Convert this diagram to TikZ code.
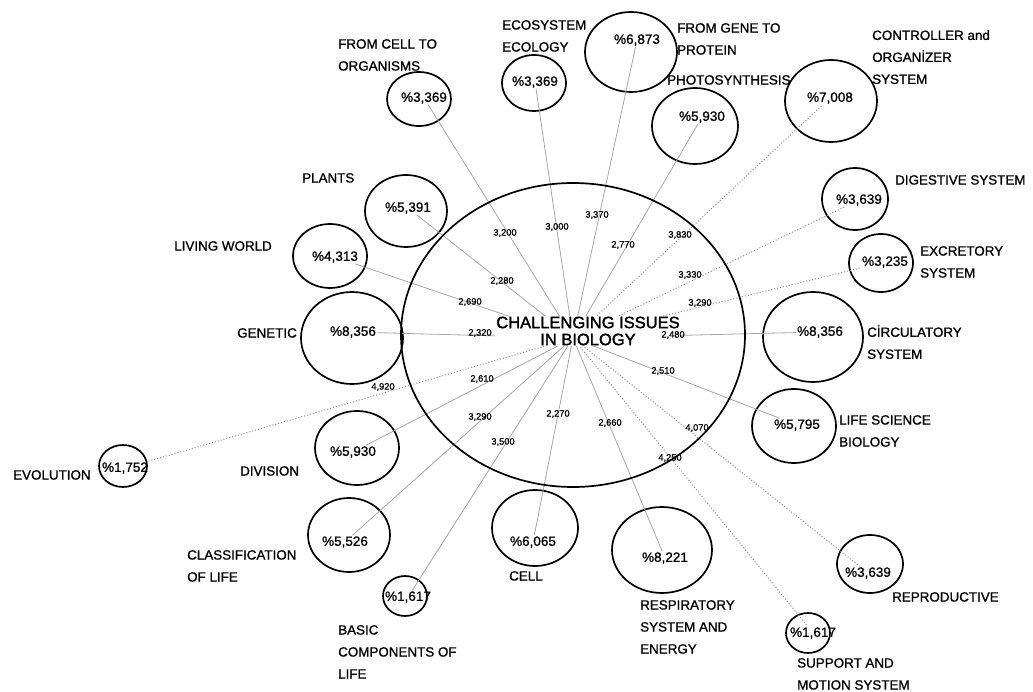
\documentclass[tikz,border=0pt]{standalone}
\usepackage{fontspec}
\setmainfont{Liberation Sans}
\newfontfamily\heavyfont{Liberation Sans}[RawFeature={embolden=1.0}]
\newfontfamily\titlefont{Liberation Sans}[RawFeature={embolden=1.6}]
\usetikzlibrary{shapes.geometric}

\tikzset{
	bub/.style={draw, ellipse, line width=1.7pt, inner sep=0pt},
	pct/.style={font=\heavyfont\fontsize{13.5}{14}\selectfont, inner sep=1pt},
	lbl/.style={font=\heavyfont\fontsize{13.4}{22}\selectfont, align=left, inner sep=0pt},
	wgt/.style={font=\heavyfont\fontsize{9.3}{10}\selectfont, inner sep=0pt},
	link/.style={draw=black!35, line width=0.8pt},
	linkd/.style={draw=black!45, line width=1pt, dotted},
	ttl/.style={font=\titlefont\fontsize{16.5}{17}\selectfont, align=center, fill=white, inner sep=1pt}
}

\begin{document}
\begin{tikzpicture}[x=1pt, y=-1pt]
		\useasboundingbox (0,0) rectangle (1033,692);
		
		\coordinate (hub) at (573,338);
		
		\node[bub, minimum width=64pt, minimum height=54pt] (cellorgC) at (419,99) {};
		\node[pct] (cellorg) at (424,98) {\%3,369};
		\node[bub, minimum width=64pt, minimum height=56pt] (ecoC) at (534,83) {};
		\node[pct] (eco) at (535,82) {\%3,369};
		\node[bub, minimum width=92pt, minimum height=80pt] (geneC) at (631,52) {};
		\node[pct] (gene) at (637,40) {\%6,873};
		\node[bub, minimum width=86pt, minimum height=76pt] (photoC) at (695,126) {};
		\node[pct] (photo) at (702,117) {\%5,930};
		\node[bub, minimum width=92pt, minimum height=82pt] (ctrlC) at (831,101) {};
		\node[pct] (ctrl) at (830,98) {\%7,008};
		\node[bub, minimum width=66pt, minimum height=62pt] (digC) at (855,199) {};
		\node[pct] (dig) at (859,200) {\%3,639};
		\node[bub, minimum width=64pt, minimum height=58pt] (excC) at (881,263) {};
		\node[pct] (exc) at (885,262) {\%3,235};
		\node[bub, minimum width=100pt, minimum height=90pt] (circC) at (813,337) {};
		\node[pct] (circ) at (820,332) {\%8,356};
		\node[bub, minimum width=84pt, minimum height=74pt] (lifeC) at (794,426) {};
		\node[pct] (life) at (797,425) {\%5,795};
		\node[bub, minimum width=66pt, minimum height=58pt] (reprC) at (870,564) {};
		\node[pct] (repr) at (868,573) {\%3,639};
		\node[bub, minimum width=44pt, minimum height=40pt] (suppC) at (808,633) {};
		\node[pct] (supp) at (813,633) {\%1,617};
		\node[bub, minimum width=100pt, minimum height=86pt] (respC) at (662,550) {};
		\node[pct] (resp) at (665,558) {\%8,221};
		\node[bub, minimum width=86pt, minimum height=76pt] (cellC) at (535,528) {};
		\node[pct] (cell) at (533,542) {\%6,065};
		\node[bub, minimum width=44pt, minimum height=40pt] (basicC) at (405,596) {};
		\node[pct] (basic) at (408,597) {\%1,617};
		\node[bub, minimum width=82pt, minimum height=74pt] (classC) at (349,535) {};
		\node[pct] (class) at (345,542) {\%5,526};
		\node[bub, minimum width=84pt, minimum height=74pt] (divC) at (357,448) {};
		\node[pct] (div) at (353,452) {\%5,930};
		\node[bub, minimum width=48pt, minimum height=42pt] (evolC) at (123,466) {};
		\node[pct] (evol) at (125,468) {\%1,752};
		\node[bub, minimum width=102pt, minimum height=92pt] (genC) at (352,338) {};
		\node[pct] (gen) at (353,332) {\%8,356};
		\node[bub, minimum width=74pt, minimum height=64pt] (livC) at (330,256) {};
		\node[pct] (liv) at (335,257) {\%4,313};
		\node[bub, minimum width=82pt, minimum height=72pt] (plantC) at (406,211) {};
		\node[pct] (plant) at (408,208) {\%5,391};
		
		\draw[link] (hub) -- (cellorg);
		\draw[link] (hub) -- (eco);
		\draw[link] (hub) -- (gene);
		\draw[link] (hub) -- (photo);
		\draw[linkd] (hub) -- (ctrl);
		\draw[linkd] (hub) -- (dig);
		\draw[linkd] (hub) -- (exc);
		\draw[link] (hub) -- (circ);
		\draw[link] (hub) -- (life);
		\draw[linkd] (hub) -- (repr);
		\draw[linkd] (hub) -- (supp);
		\draw[link] (hub) -- (resp);
		\draw[link] (hub) -- (cell);
		\draw[link] (hub) -- (basic);
		\draw[link] (hub) -- (class);
		\draw[link] (hub) -- (div);
		\draw[linkd] (hub) -- (evol);
		\draw[link] (hub) -- (gen);
		\draw[link] (hub) -- (liv);
		\draw[link] (hub) -- (plant);
		
		\node[bub, minimum width=344pt, minimum height=304pt] (core) at (573,335) {};
		\node[ttl] (title) at (588,331) {CHALLENGING ISSUES\\IN BIOLOGY};
		
		\node[wgt] (w1) at (505,233) {3,200};
		\node[wgt] (w2) at (557,227) {3,000};
		\node[wgt] (w3) at (597,215) {3,370};
		\node[wgt] (w4) at (623,245) {2,770};
		\node[wgt] (w5) at (680,235) {3,830};
		\node[wgt] (w6) at (690,275) {3,330};
		\node[wgt] (w7) at (700,303) {3,290};
		\node[wgt] (w8) at (673,335) {2,480};
		\node[wgt] (w9) at (663,371) {2,510};
		\node[wgt] (w10) at (697,428) {4,070};
		\node[wgt] (w11) at (670,458) {4,250};
		\node[wgt] (w12) at (610,423) {2,660};
		\node[wgt] (w13) at (558,414) {2,270};
		\node[wgt] (w14) at (503,442) {3,500};
		\node[wgt] (w15) at (480,417) {3,290};
		\node[wgt] (w16) at (482,379) {2,610};
		\node[wgt] (w17) at (383,387) {4,920};
		\node[wgt] (w18) at (480,333) {2,320};
		\node[wgt] (w19) at (470,302) {2,690};
		\node[wgt] (w20) at (502,281) {2,280};
		
		\node[lbl, anchor=north west] (cellorgL) at (338,39) {FROM CELL TO\\ORGANISMS};
		\node[lbl, anchor=north west] (ecoL) at (502,20) {ECOSYSTEM\\ECOLOGY};
		\node[lbl, anchor=north west] (geneL) at (677,23) {FROM GENE TO\\PROTEIN};
		\node[lbl, anchor=north west] (photoL) at (667,75) {PHOTOSYNTHESIS};
		\node[lbl, anchor=north west] (ctrlL) at (872,30) {CONTROLLER and\\ORGANİZER\\SYSTEM};
		\node[lbl, anchor=north west] (digL) at (895,175) {DIGESTIVE SYSTEM};
		\node[lbl, anchor=north west] (excL) at (920,246) {EXCRETORY\\SYSTEM};
		\node[lbl, anchor=north west] (circL) at (867,325) {CİRCULATORY\\SYSTEM};
		\node[lbl, anchor=north west] (lifeL) at (839,415) {LIFE SCIENCE\\BIOLOGY};
		\node[lbl, anchor=north west] (reprL) at (892,592) {REPRODUCTIVE};
		\node[lbl, anchor=north west] (suppL) at (797,658) {SUPPORT AND\\MOTION SYSTEM};
		\node[lbl, anchor=north west] (respL) at (640,600) {RESPIRATORY\\SYSTEM AND\\ENERGY};
		\node[lbl, anchor=north west] (cellL) at (509,571) {CELL};
		\node[lbl, anchor=north west] (basicL) at (338,625) {BASIC\\COMPONENTS OF\\LIFE};
		\node[lbl, anchor=north west] (classL) at (187,550) {CLASSIFICATION\\OF LIFE};
		\node[lbl, anchor=north west] (divL) at (240,466) {DIVISION};
		\node[lbl, anchor=north west] (evolL) at (13,470) {EVOLUTION};
		\node[lbl, anchor=north east] (genL) at (297,328) {GENETIC};
		\node[lbl, anchor=north east] (livL) at (272,241) {LIVING WORLD};
		\node[lbl, anchor=north west] (plantL) at (302,173) {PLANTS};
	\end{tikzpicture}
\end{document}
